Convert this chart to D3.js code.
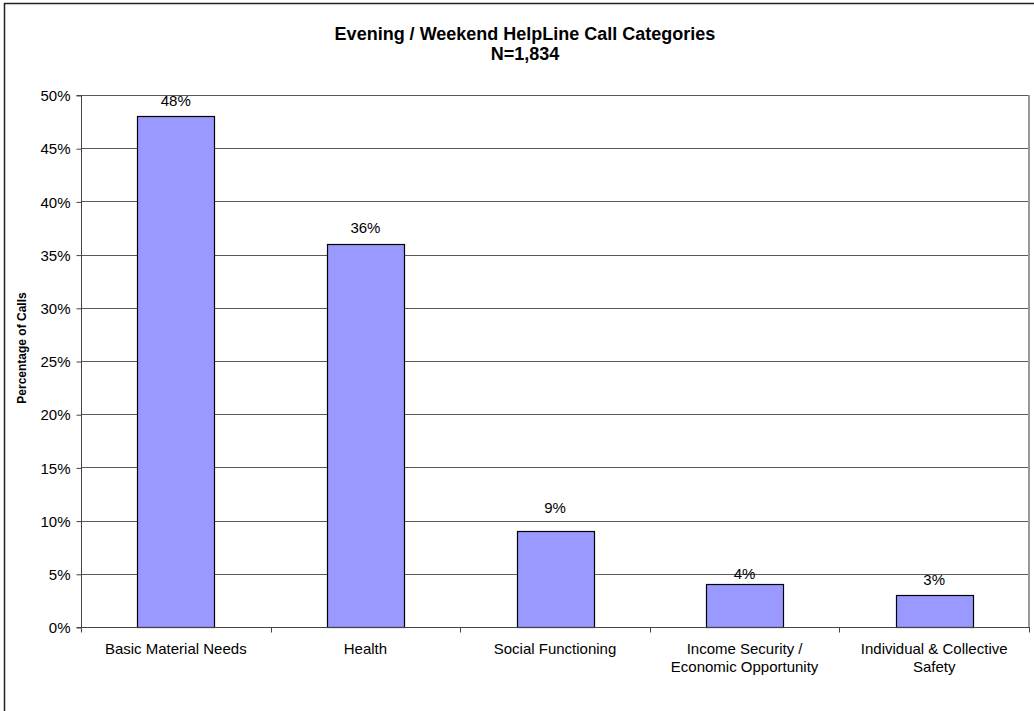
<!DOCTYPE html>
<html>
<head>
<meta charset="utf-8">
<script src="https://cdn.jsdelivr.net/npm/d3@7/dist/d3.min.js"></script>
<style>
  html, body { margin: 0; padding: 0; background: #fff; }
  svg { display: block; }
  text { font-family: "Liberation Sans", Arial, sans-serif; fill: #000; }
</style>
</head>
<body>
<svg id="chart" width="1034" height="711"></svg>
<script>
// Call categories (line breaks mark wrapped axis labels)
const categories = [
  "Basic Material Needs",
  "Health",
  "Social Functioning",
  "Income Security /\nEconomic Opportunity",
  "Individual & Collective\nSafety"
];
// Share of calls per category
const shares = [0.48, 0.36, 0.09, 0.04, 0.03];
// Y-axis tick values
const yTicks = [0, 0.05, 0.10, 0.15, 0.20, 0.25, 0.30, 0.35, 0.40, 0.45, 0.50];

const titleLines = ["Evening / Weekend HelpLine Call Categories", "N=1,834"];
const yAxisTitle = "Percentage of Calls";

const svg = d3.select("#chart");
const W = 1034, H = 711;
const plot = { left: 81, top: 95, right: 1029, bottom: 627 };

// Outer chart frame
svg.append("rect")
  .attr("x", 4.5).attr("y", 3.5)
  .attr("width", W + 10).attr("height", H + 10)
  .attr("fill", "#fff").attr("stroke", "#222").attr("stroke-width", 1.5);

const x = d3.scaleBand()
  .domain(categories)
  .range([plot.left, plot.right])
  .paddingInner(0.594)
  .paddingOuter(0.297);

const y = d3.scaleLinear()
  .domain([0, 0.5])
  .range([plot.bottom, plot.top]);

const pct = d3.format(".0%");

// Horizontal gridlines
svg.append("g")
  .selectAll("line")
  .data(yTicks.filter(d => d > 0))
  .join("line")
  .attr("x1", plot.left).attr("x2", plot.right)
  .attr("y1", d => Math.round(y(d)) + 0.5).attr("y2", d => Math.round(y(d)) + 0.5)
  .attr("stroke", "#5a5a5a").attr("stroke-width", 1);

// Plot area right edge
svg.append("line")
  .attr("x1", plot.right).attr("x2", plot.right)
  .attr("y1", plot.top).attr("y2", plot.bottom)
  .attr("stroke", "#999").attr("stroke-width", 2);

// Y axis
const yAxis = d3.axisLeft(y)
  .tickValues(yTicks)
  .tickFormat(pct)
  .tickSize(5)
  .tickPadding(6);
const gy = svg.append("g")
  .attr("transform", `translate(${plot.left + 0.5},0.5)`)
  .call(yAxis);
gy.select(".domain").attr("stroke", "#444");
gy.selectAll(".tick line").attr("stroke", "#444");
gy.selectAll(".tick text")
  .attr("font-size", 15)
  .attr("font-family", "Liberation Sans, Arial, sans-serif")
  .attr("fill", "#000")
  .attr("dy", "0.34em");
gy.select(".domain").attr("d", `M-5,${y(0.5)}H0V${y(0)}H-5`);

// Bars
svg.append("g")
  .selectAll("rect")
  .data(categories.map((c, i) => ({ c, v: shares[i] })))
  .join("rect")
  .attr("x", d => Math.round(x(d.c)) + 0.5)
  .attr("y", d => Math.round(y(d.v)) + 0.5)
  .attr("width", Math.round(x.bandwidth()))
  .attr("height", d => y(0) - Math.round(y(d.v)))
  .attr("fill", "#9999ff")
  .attr("stroke", "#000")
  .attr("stroke-width", 1.2);

// X axis
const boundaries = d3.range(categories.length + 1)
  .map(i => plot.left + i * x.step());
const gx = svg.append("g");
gx.append("line")
  .attr("x1", plot.left).attr("x2", plot.right)
  .attr("y1", plot.bottom + 0.5).attr("y2", plot.bottom + 0.5)
  .attr("stroke", "#444");
gx.selectAll("line.tick")
  .data(boundaries)
  .join("line")
  .attr("class", "tick")
  .attr("x1", d => Math.round(d) + 0.5).attr("x2", d => Math.round(d) + 0.5)
  .attr("y1", plot.bottom).attr("y2", plot.bottom + 5.5)
  .attr("stroke", "#444");

const catText = gx.selectAll("text.cat")
  .data(categories)
  .join("text")
  .attr("class", "cat")
  .attr("text-anchor", "middle")
  .attr("font-size", 15)
  .attr("x", d => x(d) + x.bandwidth() / 2)
  .attr("y", 654);
catText.selectAll("tspan")
  .data(d => d.split("\n").map(line => ({ line, cx: x(d) + x.bandwidth() / 2 })))
  .join("tspan")
  .attr("x", d => d.cx)
  .attr("dy", (d, i) => i === 0 ? 0 : 18)
  .text(d => d.line);

// Value labels above bars (gap in px between label baseline and bar top)
const labelGap = [10.5, 10.5, 18.5, 5, 10];
svg.append("g")
  .selectAll("text")
  .data(categories.map((c, i) => ({ c, v: shares[i], i })))
  .join("text")
  .attr("text-anchor", "middle")
  .attr("font-size", 15)
  .attr("x", d => x(d.c) + x.bandwidth() / 2)
  .attr("y", d => y(d.v) - labelGap[d.i])
  .text(d => pct(d.v));

// Title
svg.append("text")
  .attr("text-anchor", "middle")
  .attr("font-weight", "bold")
  .attr("font-size", 18)
  .attr("x", 525).attr("y", 39.5)
  .selectAll("tspan")
  .data(titleLines)
  .join("tspan")
  .attr("x", 525)
  .attr("dy", (d, i) => i === 0 ? 0 : 20)
  .text(d => d);

// Y axis title
svg.append("text")
  .attr("text-anchor", "middle")
  .attr("font-weight", "bold")
  .attr("font-size", 12)
  .attr("transform", "translate(26,348) rotate(-90)")
  .text(yAxisTitle);
</script>
</body>
</html>
